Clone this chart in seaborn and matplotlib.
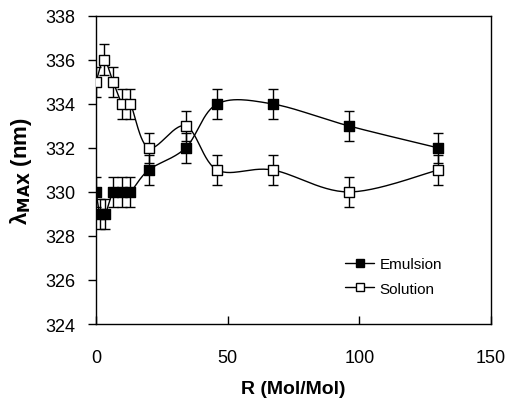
import numpy as np
import pandas as pd
import matplotlib
matplotlib.use("Agg")
import matplotlib.pyplot as plt
import seaborn as sns
from matplotlib.lines import Line2D

# Data
emul_x = [0, 1.5, 3.5, 6.5, 10, 13, 20, 34, 46, 67, 96, 130]
emul_y = [330, 329, 329, 330, 330, 330, 331, 332, 334, 334, 333, 332]
sol_x = [0, 3, 6.5, 10, 13, 20, 34, 46, 67, 96, 130]
sol_y = [335, 336, 335, 334, 334, 332, 333, 331, 331, 330, 331]
err = 0.7

sns.set_theme(style="white")
plt.rcParams['font.family'] = ['Liberation Sans', 'DejaVu Sans']
plt.rcParams['text.color'] = 'black'
plt.rcParams['axes.labelcolor'] = 'black'


def smooth(x, y, n=30):
    # Bezier smoothing for the connecting line (rendering only)
    x = np.asarray(x, float); y = np.asarray(y, float)
    xs, ys = [], []
    for i in range(len(x) - 1):
        p0 = np.array([x[i - 1] if i > 0 else x[i], y[i - 1] if i > 0 else y[i]])
        p1 = np.array([x[i], y[i]])
        p2 = np.array([x[i + 1], y[i + 1]])
        p3 = np.array([x[i + 2], y[i + 2]]) if i + 2 < len(x) else p2
        c1 = p1 + (p2 - p0) / 6.0
        c2 = p2 - (p3 - p1) / 6.0
        t = np.linspace(0, 1, n)[:, None]
        pts = (1 - t) ** 3 * p1 + 3 * (1 - t) ** 2 * t * c1 + 3 * (1 - t) * t ** 2 * c2 + t ** 3 * p2
        xs.extend(pts[:, 0]); ys.extend(pts[:, 1])
    return np.array(xs), np.array(ys)


fig = plt.figure(figsize=(5.11, 4.02), dpi=100)
ax = fig.add_axes([0.188, 0.1915, 0.773, 0.7665])

ex, ey = smooth(emul_x, emul_y)
sx, sy = smooth(sol_x, sol_y)
ax.plot(ex, ey, color='black', lw=1.0, zorder=2)
ax.plot(sx, sy, color='black', lw=1.0, zorder=2)

ax.errorbar(emul_x, emul_y, yerr=err, fmt='none', ecolor='black', elinewidth=1, capsize=3.5, capthick=1, zorder=3)
ax.errorbar(sol_x, sol_y, yerr=err, fmt='none', ecolor='black', elinewidth=1, capsize=3.5, capthick=1, zorder=3)

df_e = pd.DataFrame({'x': emul_x, 'y': emul_y})
df_s = pd.DataFrame({'x': sol_x, 'y': sol_y})
sns.scatterplot(data=df_e, x='x', y='y', marker='s', s=55, color='black', edgecolor='black', linewidth=1, ax=ax, zorder=4)
sns.scatterplot(data=df_s, x='x', y='y', marker='s', s=55, color='white', edgecolor='black', linewidth=1, ax=ax, zorder=4)

ax.set_xlim(0, 150)
ax.set_ylim(324, 338)
ax.set_xticks([0, 50, 100, 150])
ax.set_yticks(range(324, 339, 2))
for s in ax.spines.values():
    s.set_color('black')
    s.set_linewidth(1)
ax.tick_params(axis='y', direction='out', length=6, width=1, colors='black', labelsize=13, left=True, pad=9)
ax.tick_params(axis='x', direction='in', length=6, width=1, colors='black', labelsize=13, bottom=True, pad=18)
ax.set_xlabel('R (Mol/Mol)', fontsize=14, fontweight='bold', labelpad=10, color='black')
ax.set_ylabel(r'λ$_{\mathbf{MAX}}$ (nm)', fontsize=16, fontweight='bold', labelpad=8, color='black')

handles = [
    Line2D([0], [0], color='black', lw=1, marker='s', markersize=6, markerfacecolor='black', markeredgecolor='black'),
    Line2D([0], [0], color='black', lw=1, marker='s', markersize=6, markerfacecolor='white', markeredgecolor='black'),
]
fig.legend(handles, ['Emulsion', 'Solution'], loc='upper left',
           bbox_to_anchor=(345 / 511, 1 - 258 / 402), borderpad=0, borderaxespad=0,
           frameon=False, fontsize=11, handlelength=1.9, handletextpad=0.35, labelspacing=0.7,
           labelcolor='black')

fig.savefig('out.png', dpi=100)
